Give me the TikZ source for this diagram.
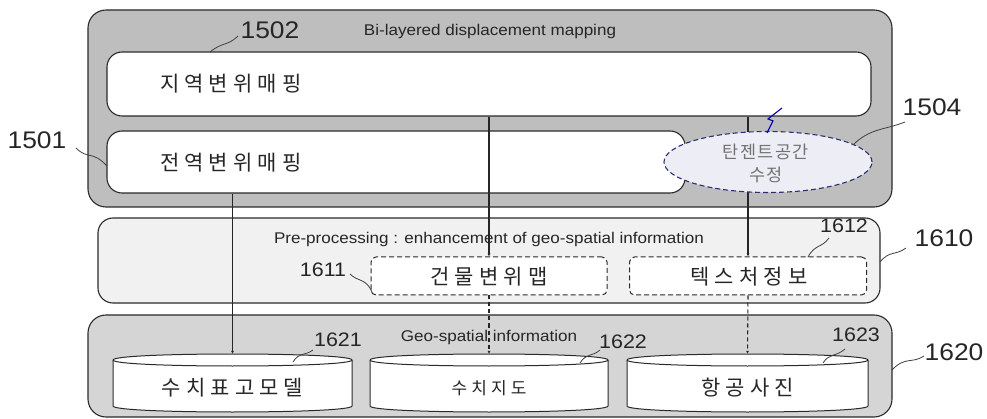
\documentclass[tikz,border=0pt]{standalone}
\usepackage{fontspec}
\setmainfont{Liberation Sans}[FakeStretch=1.1]
\newfontfamily\kr{Noto Sans CJK KR}[LetterSpace=24]
\newfontfamily\krs{Noto Sans CJK KR}[LetterSpace=8]
\usetikzlibrary{arrows.meta,shapes.geometric}
\definecolor{boxA}{HTML}{BEBEBE}
\definecolor{boxB}{HTML}{F1F1F1}
\definecolor{boxC}{HTML}{D5D5D5}
\definecolor{ellfill}{HTML}{EDEDF5}
\definecolor{ellline}{HTML}{2E2E70}
\definecolor{edge}{HTML}{2A2A2A}
\newcommand\mkcyl[6]{%
  \node[minimum width=#3pt-#2pt, minimum height=#5pt-#4pt+6pt, inner sep=0pt] (#1) at ({(#2+#3)/2},{(#4+#5)/2-3}) {};
  \filldraw[cylsty] (#2,#4) -- (#2,#5) .. controls (#2,#5+8) and (#3,#5+8) .. (#3,#5) -- (#3,#4)
     .. controls (#3,#4-8) and (#2,#4-8) .. (#2,#4) -- cycle;
  \draw[cylsty,fill=none] (#2,#4) .. controls (#2,#4+8) and (#3,#4+8) .. (#3,#4);
  \node[krtxt] at ({(#2+#3)/2},{(#4+#5)/2+5}) {#6};
}
\begin{document}
\begin{tikzpicture}[x=1pt,y=-1pt,
  bigbox/.style={draw=edge, line width=1.1pt, rounded corners=18pt},
  inbox/.style={draw=edge, line width=1.1pt, fill=white, rounded corners=15pt},
  dbox/.style={draw=edge, line width=1pt, fill=white, dashed, dash pattern=on 5pt off 3pt, rounded corners=5pt},
  cylsty/.style={draw=edge, line width=1pt, fill=white},
  krtxt/.style={font=\kr\fontsize{21}{24}\selectfont, inner sep=0pt, text=black!85},
  entxt/.style={font=\fontsize{15.5}{18}\selectfont, inner sep=0pt, text=black!85},
  numbig/.style={font=\fontsize{24}{28}\selectfont, inner sep=0pt, text=black!85},
  numsm/.style={font=\fontsize{19.5}{23}\selectfont, inner sep=0pt, text=black!85},
  leader/.style={draw=black!75, line width=0.8pt},
  conn/.style={draw=black!85, line width=1.1pt},
  tip/.style={-{Latex[length=3pt,width=3pt]}}
]
\useasboundingbox (0,0) rectangle (987,419);
\fill[white] (0,0) rectangle (987,419);

% --- big boxes
\draw[bigbox, fill=boxA] (88,10) rectangle (892,207);
\draw[bigbox, fill=boxB, rounded corners=15pt] (98,218) rectangle (880,303);
\draw[bigbox, fill=boxC] (88,315) rectangle (892,417);

\node[entxt] (t1) at (490,31) {Bi-layered displacement mapping};
\node[entxt] (t2) at (489,239) {Pre-processing : enhancement of geo-spatial information};
\node[entxt] (t3) at (489,337) {Geo-spatial information};

% --- inner boxes of top layer
\node[inbox, minimum width=764pt, minimum height=64pt, inner sep=0pt] (L1502) at (489,84) {};
\node[krtxt, anchor=west] at (160,84) {지역변위매핑};
\node[inbox, minimum width=578pt, minimum height=62pt, inner sep=0pt] (L1501) at (396,162) {};
\node[krtxt, anchor=west] at (160,163) {전역변위매핑};

% --- preprocessing boxes
\node[dbox, minimum width=236pt, minimum height=38pt, inner sep=0pt] (b1611) at (489,276) {};
\node[krtxt] at (489,277) {건물변위맵};
\node[dbox, minimum width=237pt, minimum height=38pt, inner sep=0pt] (b1612) at (748,276) {};
\node[krtxt] at (749,277) {텍스처정보};

% --- cylinders
\mkcyl{c1621}{113}{352}{360}{406}{수치표고모델}
\mkcyl{c1622}{370}{608}{360}{406}{\fontsize{17}{20}\selectfont 수치지도}
\mkcyl{c1623}{627}{868}{360}{406}{항공사진}

% --- connectors
\draw[conn, tip] (L1502.south -| b1611.north) -- (b1611.north);
\draw[conn, tip] (L1502.south -| b1612.north) -- (b1612.north);
\draw[conn, tip] (L1501.south -| c1621.north) -- (c1621.north);
\draw[conn, tip, dashed, dash pattern=on 4pt off 3pt] (b1611.south) -- (c1622.north);
\draw[conn, tip, dashed, dash pattern=on 4pt off 3pt] (b1612.south) -- (c1623.north);

% --- tangent-space ellipse
\node[ellipse, draw=ellline, fill=ellfill, line width=1.1pt, dashed, dash pattern=on 5pt off 3pt,
      minimum width=208pt, minimum height=61pt, inner sep=0pt] (ell) at (768,162) {};
\node[font=\krs\fontsize{17.5}{20}\selectfont, text=black!55, align=center, inner sep=0pt] (ellt) at (766,163)
  {탄젠트공간\\[3pt]수정};
\coordinate (boltTop) at (782,108);
\draw[draw=blue!70!black, line width=1.1pt] (ell.north) ++(-1,2) -- ++(6,-12) -- ++(-5,-2) -- (boltTop);

% --- labels
\node[numbig] (n1502) at (270,30) {1502};
\node[numbig] (n1501) at (37,140) {1501};
\node[numbig] (n1504) at (932,107) {1504};
\node[numbig] (n1610) at (944,238) {1610};
\node[numbig] (n1620) at (954,352) {1620};
\node[numsm] (n1611) at (323,270) {1611};
\node[numsm] (n1612) at (844,226) {1612};
\node[numsm] (n1621) at (338,340) {1621};
\node[numsm] (n1622) at (623,342) {1622};
\node[numsm] (n1623) at (856,335) {1623};

% --- leaders
\draw[leader] (210,52) .. controls (222,42) and (228,46) .. (238,36);
\draw[leader] (107,166) .. controls (92,150) and (88,160) .. (76,148);
\draw[leader] (853,145) .. controls (870,128) and (885,130) .. (905,122);
\draw[leader] (880,262) .. controls (890,250) and (895,256) .. (906,248);
\draw[leader] (892,370) .. controls (905,356) and (912,364) .. (924,356);
\draw[leader] (372,292) .. controls (366,278) and (358,282) .. (350,274);
\draw[leader] (808,257) .. controls (815,244) and (822,248) .. (829,238);
\draw[leader] (293,362) .. controls (299,352) and (305,356) .. (313,350);
\draw[leader] (580,363) .. controls (586,353) and (592,357) .. (600,350);
\draw[leader] (823,363) .. controls (829,353) and (836,357) .. (845,349);
\end{tikzpicture}
\end{document}
